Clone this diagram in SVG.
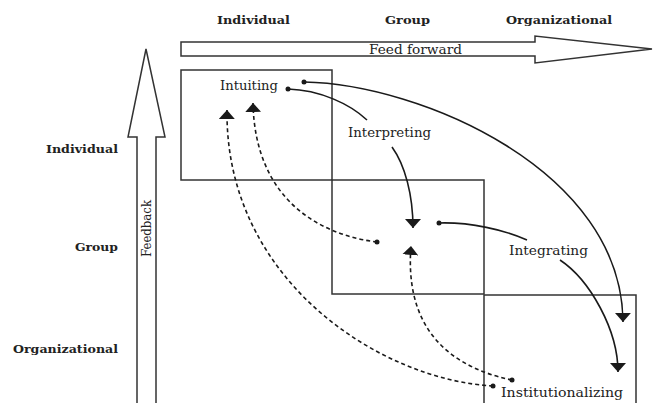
<svg xmlns="http://www.w3.org/2000/svg" width="654" height="403" viewBox="0 0 654 403">
<defs>
<marker id="ah" viewBox="0 0 9 16" refX="9" refY="8" markerWidth="9" markerHeight="16" markerUnits="userSpaceOnUse" orient="auto">
<path d="M0,0 L9,8 L0,16 z" fill="#1a1a1a"/>
</marker>
<style>
.hdr{font-family:"DejaVu Serif","Liberation Serif",serif;font-weight:bold;font-size:11px;fill:#222}
.lbl{font-family:"DejaVu Serif","Liberation Serif",serif;font-size:12px;fill:#222}
.box{fill:none;stroke:#333;stroke-width:1.5}
.big{fill:#fff;stroke:#333;stroke-width:1.5}
.solid{fill:none;stroke:#1a1a1a;stroke-width:1.6;marker-end:url(#ah)}
.plain{fill:none;stroke:#1a1a1a;stroke-width:1.6}
.dash{fill:none;stroke:#1a1a1a;stroke-width:1.6;stroke-dasharray:4,3;marker-end:url(#ah)}
.dot{fill:#1a1a1a}
</style>
</defs>
<rect width="654" height="403" fill="#fff"/>

<g id="headers">
<text class="hdr" x="217" y="24" textLength="73" lengthAdjust="spacingAndGlyphs">Individual</text>
<text class="hdr" x="385" y="24" textLength="45" lengthAdjust="spacingAndGlyphs">Group</text>
<text class="hdr" x="506" y="24" textLength="106" lengthAdjust="spacingAndGlyphs">Organizational</text>
<text class="hdr" x="46" y="153" textLength="72" lengthAdjust="spacingAndGlyphs">Individual</text>
<text class="hdr" x="75" y="251" textLength="43" lengthAdjust="spacingAndGlyphs">Group</text>
<text class="hdr" x="13" y="353" textLength="105" lengthAdjust="spacingAndGlyphs">Organizational</text>
</g>

<g id="feed-forward">
<polygon class="big" points="181,42 535,42 535,36 652,49 535,63 535,56 181,56"/>
<text class="lbl" x="369" y="54" textLength="93" lengthAdjust="spacingAndGlyphs">Feed forward</text>
</g>

<g id="feedback">
<polygon class="big" points="137,405 137,137 128,137 146,49 165,137 156,137 156,405"/>
<text class="lbl" transform="translate(151,257) rotate(-90)" x="0" y="0" textLength="57" lengthAdjust="spacingAndGlyphs">Feedback</text>
</g>

<g id="individual-box"><rect class="box" x="181" y="70" width="151" height="110"/></g>
<g id="group-box"><rect class="box" x="332" y="180" width="152" height="114"/></g>
<g id="organizational-box"><path class="box" d="M484,406 L484,295 L636,295 L636,406"/></g>

<g id="intuiting"><text class="lbl" x="220" y="90" textLength="58" lengthAdjust="spacingAndGlyphs">Intuiting</text></g>
<g id="interpreting"><text class="lbl" x="348" y="137" textLength="83" lengthAdjust="spacingAndGlyphs">Interpreting</text></g>
<g id="integrating"><text class="lbl" x="509" y="255" textLength="79" lengthAdjust="spacingAndGlyphs">Integrating</text></g>
<g id="institutionalizing"><text class="lbl" x="501" y="397" textLength="122" lengthAdjust="spacingAndGlyphs">Institutionalizing</text></g>

<g id="connectors">
<path class="plain" d="M288,89 C320,90 350,104 367,120"/>
<path class="solid" d="M392,147 C405,165 413,195 413,228"/>
<path class="plain" d="M439,223 C470,222 505,230 527,240"/>
<path class="solid" d="M560,260 C590,280 618,330 618,372"/>
<path class="solid" d="M304,82 C420,84 622,170 623,322"/>
<path class="dash" d="M377,242 C320,235 255,200 253,103"/>
<path class="dash" d="M493,386 C380,380 225,280 227,110"/>
<path class="dash" d="M512,380 C440,365 405,320 411,246"/>
<circle class="dot" cx="288" cy="89" r="2.5"/>
<circle class="dot" cx="304" cy="82" r="2.5"/>
<circle class="dot" cx="377" cy="242" r="2.5"/>
<circle class="dot" cx="439" cy="223" r="2.5"/>
<circle class="dot" cx="493" cy="386" r="2.5"/>
<circle class="dot" cx="512" cy="380" r="2.5"/>
</g>
</svg>
